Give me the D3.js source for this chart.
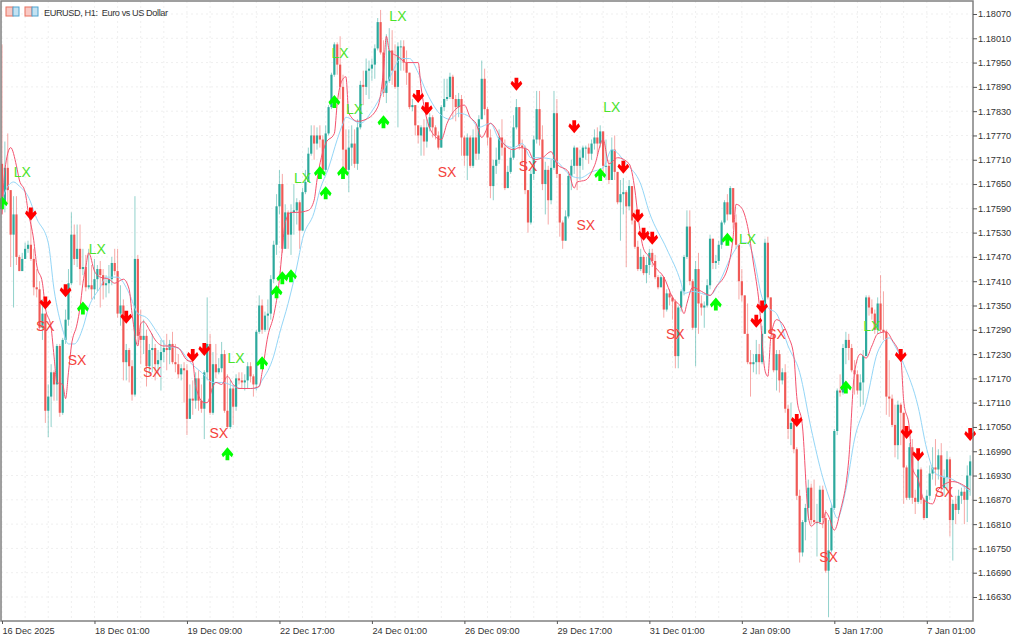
<!DOCTYPE html>
<html>
<head>
<meta charset="utf-8">
<script src="https://cdn.jsdelivr.net/npm/d3@7"></script>
<style>
    html, body { margin: 0; padding: 0; background: #fff; overflow: hidden; }
    svg { display: block; }
    text { font-family: "Liberation Sans", Arial, sans-serif; }
</style>
</head>
<body>
<div id="chart"></div>
<script>
// all prices below are in points above 1.10000, so 8070 reads 1.18070
const pointBase = 1.1;
const pointSize = 0.00001;
const firstOpen = 7700;

const highs = [
    7995, 7755, 7775, 7635, 7620, 7620, 7475, 7480, 7505, 7510, 7565, 7490, 7440, 7410, 7365, 7330, 7155, 7205, 7190, 7255,
    7255, 7270, 7340, 7440, 7580, 7550, 7550, 7550, 7490, 7475, 7490, 7450, 7465, 7450, 7460, 7440, 7425, 7450, 7470, 7490,
    7490, 7400, 7365, 7255, 7245, 7215, 7620, 7475, 7340, 7315, 7290, 7255, 7280, 7255, 7240, 7265, 7265, 7280, 7265, 7285,
    7255, 7230, 7205, 7210, 7205, 7155, 7165, 7185, 7190, 7155, 7190, 7370, 7280, 7235, 7255, 7220, 7260, 7240, 7180, 7165,
    7155, 7180, 7185, 7185, 7180, 7210, 7210, 7180, 7290, 7375, 7365, 7335, 7365, 7425, 7510, 7625, 7685, 7675, 7600, 7585,
    7600, 7650, 7615, 7610, 7640, 7685, 7740, 7795, 7795, 7790, 7795, 7770, 7795, 7845, 7925, 8000, 8000, 8015, 7920, 7785,
    7785, 7795, 7785, 7810, 7905, 7930, 7960, 7955, 7960, 7995, 8060, 8080, 8005, 8020, 8035, 8030, 7995, 8000, 8005, 8005,
    7980, 7925, 7860, 7845, 7795, 7795, 7810, 7810, 7825, 7820, 7795, 7780, 7845, 7910, 7910, 7925, 7920, 7870, 7875, 7870,
    7770, 7775, 7770, 7785, 7795, 7820, 7955, 7935, 7840, 7785, 7710, 7740, 7785, 7810, 7760, 7695, 7735, 7820, 7860, 7840,
    7760, 7745, 7635, 7685, 7770, 7880, 7880, 7795, 7705, 7695, 7710, 7880, 7860, 7675, 7560, 7585, 7680, 7710, 7745, 7735,
    7735, 7745, 7745, 7750, 7760, 7785, 7790, 7795, 7780, 7760, 7710, 7765, 7770, 7680, 7660, 7665, 7635, 7660, 7645, 7585,
    7510, 7490, 7475, 7470, 7490, 7490, 7475, 7425, 7425, 7420, 7390, 7390, 7375, 7365, 7350, 7390, 7475, 7585, 7585, 7415,
    7460, 7480, 7375, 7360, 7415, 7525, 7515, 7475, 7510, 7560, 7610, 7625, 7645, 7640, 7575, 7490, 7440, 7375, 7355, 7240,
    7230, 7265, 7255, 7300, 7515, 7520, 7370, 7280, 7240, 7240, 7195, 7205, 7105, 7110, 7055, 7000, 6895, 6820, 6860, 6920,
    6910, 6920, 6860, 6905, 6905, 6845, 6820, 6860, 7045, 7145, 7180, 7255, 7285, 7280, 7255, 7215, 7190, 7180, 7240, 7375,
    7375, 7365, 7340, 7370, 7425, 7385, 7290, 7215, 7130, 7105, 7115, 7110, 7085, 6955, 7010, 7020, 6895, 6970, 6950, 6875,
    6895, 6955, 7000, 7020, 6995, 7010, 6945, 6990, 6975, 6870, 6880, 6895, 6900, 6905, 6955, 6980
];

const lows = [
    7575, 7580, 7600, 7445, 7345, 7450, 7435, 7435, 7470, 7480, 7460, 7375, 7370, 7290, 7265, 7060, 7025, 7050, 7115, 7115,
    7075, 7080, 7255, 7300, 7400, 7450, 7445, 7400, 7425, 7385, 7390, 7365, 7365, 7385, 7345, 7365, 7370, 7380, 7400, 7425,
    7320, 7300, 7165, 7165, 7160, 7115, 7125, 7255, 7205, 7230, 7150, 7180, 7185, 7165, 7180, 7140, 7210, 7190, 7205, 7205,
    7185, 7170, 7165, 7110, 7030, 7070, 7080, 7095, 7090, 7085, 7020, 7165, 7080, 7080, 7170, 7180, 7185, 7085, 7045, 7045,
    7055, 7090, 7155, 7145, 7140, 7145, 7160, 7125, 7140, 7280, 7280, 7285, 7290, 7315, 7405, 7475, 7575, 7480, 7490, 7490,
    7475, 7525, 7550, 7490, 7550, 7625, 7665, 7720, 7710, 7735, 7740, 7675, 7680, 7770, 7835, 7915, 7920, 7860, 7685, 7675,
    7630, 7695, 7690, 7685, 7785, 7845, 7870, 7860, 7905, 7910, 7980, 7970, 7865, 7850, 7900, 7895, 7885, 7790, 7930, 7930,
    7895, 7835, 7830, 7770, 7750, 7720, 7720, 7740, 7780, 7765, 7760, 7735, 7755, 7830, 7855, 7860, 7810, 7805, 7815, 7720,
    7695, 7660, 7690, 7690, 7710, 7710, 7810, 7820, 7745, 7615, 7610, 7675, 7700, 7720, 7635, 7640, 7675, 7710, 7785, 7735,
    7695, 7625, 7530, 7550, 7660, 7750, 7745, 7635, 7575, 7550, 7600, 7685, 7665, 7520, 7490, 7510, 7565, 7635, 7675, 7635,
    7660, 7685, 7710, 7700, 7710, 7735, 7720, 7740, 7675, 7660, 7650, 7680, 7660, 7600, 7510, 7575, 7445, 7585, 7550, 7490,
    7435, 7435, 7425, 7405, 7425, 7445, 7415, 7390, 7395, 7320, 7335, 7350, 7315, 7195, 7195, 7335, 7375, 7465, 7400, 7290,
    7200, 7280, 7325, 7295, 7345, 7390, 7440, 7440, 7450, 7490, 7550, 7560, 7580, 7540, 7490, 7365, 7360, 7280, 7205, 7125,
    7185, 7180, 7180, 7205, 7280, 7365, 7280, 7185, 7140, 7135, 7155, 7085, 7020, 7005, 6985, 6870, 6715, 6730, 6770, 6820,
    6810, 6810, 6730, 6810, 6800, 6690, 6580, 6740, 6845, 7030, 7125, 7130, 7205, 7215, 7185, 7130, 7130, 7100, 7105, 7240,
    7325, 7315, 7280, 7280, 7285, 7265, 7080, 7075, 7050, 6975, 6970, 7005, 6860, 6870, 6870, 6860, 6835, 6860, 6860, 6820,
    6825, 6870, 6920, 6905, 6920, 6880, 6880, 6895, 6780, 6720, 6810, 6835, 6860, 6810, 6815, 6880
];

const closes = [
    7600, 7690, 7635, 7525, 7575, 7470, 7435, 7465, 7490, 7500, 7465, 7395, 7390, 7295, 7330, 7090, 7125, 7185, 7155, 7250,
    7085, 7265, 7315, 7405, 7525, 7465, 7490, 7440, 7445, 7395, 7400, 7390, 7415, 7440, 7425, 7400, 7405, 7415, 7455, 7435,
    7330, 7350, 7210, 7240, 7200, 7130, 7465, 7275, 7265, 7275, 7200, 7240, 7245, 7205, 7215, 7235, 7245, 7240, 7255, 7210,
    7205, 7180, 7195, 7190, 7070, 7120, 7115, 7170, 7115, 7095, 7185, 7255, 7085, 7205, 7185, 7195, 7230, 7090, 7050, 7145,
    7100, 7170, 7165, 7160, 7165, 7200, 7175, 7155, 7285, 7350, 7290, 7325, 7330, 7415, 7500, 7595, 7650, 7490, 7580, 7525,
    7580, 7585, 7605, 7535, 7630, 7655, 7725, 7770, 7750, 7770, 7760, 7685, 7775, 7840, 7920, 7995, 7945, 7890, 7735, 7685,
    7740, 7750, 7700, 7790, 7895, 7890, 7930, 7935, 7945, 7985, 8050, 7975, 7875, 7905, 7980, 7930, 7890, 7990, 7990, 7950,
    7925, 7840, 7845, 7795, 7770, 7790, 7755, 7790, 7815, 7790, 7770, 7740, 7840, 7860, 7865, 7915, 7860, 7840, 7860, 7765,
    7720, 7765, 7695, 7765, 7725, 7810, 7910, 7835, 7765, 7645, 7695, 7710, 7765, 7740, 7640, 7680, 7715, 7790, 7840, 7745,
    7740, 7635, 7555, 7675, 7760, 7835, 7760, 7650, 7685, 7610, 7690, 7825, 7675, 7555, 7510, 7570, 7670, 7695, 7740, 7695,
    7715, 7740, 7740, 7725, 7750, 7765, 7750, 7780, 7695, 7695, 7660, 7735, 7680, 7605, 7625, 7630, 7595, 7645, 7560, 7495,
    7440, 7470, 7430, 7450, 7480, 7460, 7420, 7395, 7420, 7340, 7380, 7370, 7360, 7225, 7345, 7385, 7470, 7545, 7410, 7295,
    7440, 7355, 7345, 7350, 7400, 7515, 7455, 7460, 7500, 7555, 7605, 7575, 7640, 7555, 7500, 7410, 7375, 7280, 7210, 7205,
    7210, 7230, 7210, 7280, 7505, 7370, 7280, 7190, 7230, 7165, 7185, 7095, 7045, 7060, 6995, 6880, 6740, 6815, 6850, 6900,
    6820, 6815, 6815, 6895, 6825, 6695, 6745, 6850, 7040, 7140, 7135, 7245, 7265, 7245, 7190, 7180, 7140, 7160, 7225, 7370,
    7345, 7330, 7290, 7355, 7290, 7285, 7125, 7120, 7055, 7005, 7105, 7085, 6950, 6875, 7000, 6875, 6865, 6945, 6870, 6825,
    6880, 6935, 6950, 6945, 6980, 6900, 6925, 6970, 6820, 6860, 6845, 6880, 6890, 6870, 6930, 6965
];

// moving averages, read at the bars where the curve visibly turns
const fastBars = [
    0, 1, 3, 5, 6, 8, 9, 11, 12, 14, 15, 17, 18, 19, 21, 22, 23, 24, 26, 27, 28, 29, 30, 32, 34, 37, 39, 42, 44, 45, 47, 48, 49, 51, 53, 56, 58, 61,
    64, 66, 67, 70, 71, 73, 74, 76, 78, 80, 82, 86, 89, 90, 92, 94, 96, 97, 98, 100, 102, 106, 108, 109, 112, 115, 116, 118, 119, 120, 123, 126,
    130, 132, 133, 134, 137, 140, 144, 145, 149, 152, 154, 157, 160, 162, 164, 166, 169, 171, 173, 177, 179, 182, 184, 187, 190, 192, 196, 198,
    199, 202, 205, 208, 210, 213, 217, 219, 220, 222, 224, 226, 229, 232, 235, 236, 237, 239, 242, 245, 247, 251, 253, 254, 256, 258, 260, 262,
    264, 265, 266, 268, 272, 274, 275, 277, 279, 280, 282, 284, 285, 286, 288, 290, 293, 295, 297, 299, 301, 303, 306, 308, 311, 312, 314, 315,
    317, 319, 322, 324, 329, 335
];
const fastValues = [
    7575, 7685, 7740, 7695, 7660, 7630, 7585, 7510, 7450, 7405, 7345, 7295, 7225, 7160, 7155, 7120, 7185, 7250, 7305, 7345, 7405, 7445, 7480, 7435, 7420, 7415, 7405, 7415, 7390, 7330, 7250, 7305, 7310, 7290, 7265, 7250, 7250, 7245,
    7215, 7210, 7150, 7110, 7110, 7150, 7160, 7155, 7175, 7155, 7145, 7145, 7150, 7185, 7275, 7325, 7415, 7490, 7555, 7580, 7580, 7585, 7610, 7660, 7750, 7775, 7850, 7910, 7915, 7825, 7805, 7810,
    7840, 7930, 8015, 7980, 7965, 7950, 7950, 7890, 7775, 7760, 7800, 7835, 7845, 7815, 7800, 7765, 7800, 7785, 7755, 7735, 7740, 7735, 7710, 7715, 7730, 7700, 7680, 7640,
    7655, 7660, 7695, 7760, 7700, 7715, 7700, 7635, 7575, 7490, 7470, 7445, 7420, 7370, 7345, 7330, 7355, 7395, 7385, 7375, 7395, 7440, 7520, 7600, 7590, 7545, 7455, 7355,
    7190, 7175, 7270, 7315, 7275, 7225, 7125, 7050, 6830, 6805, 6815, 6810, 6840, 6830, 6795, 6840, 6970, 7185, 7230, 7220, 7250, 7280, 7285, 7265, 7220, 7115, 7045, 6950,
    6920, 6870, 6860, 6895, 6915, 6895
];

const slowBars = [
    0, 1, 4, 6, 9, 12, 16, 18, 21, 23, 25, 28, 30, 34, 36, 40, 44, 47, 50, 54, 57, 61, 65, 69, 73, 76, 83, 88, 90, 94, 96, 99, 102, 104, 108, 110, 113, 116,
    118, 119, 121, 124, 128, 132, 135, 138, 141, 144, 147, 152, 155, 158, 162, 165, 169, 172, 177, 180, 183, 186, 191, 197, 200, 204, 208, 211, 216, 221,
    224, 230, 235, 236, 239, 245, 248, 253, 256, 258, 260, 263, 265, 268, 272, 276, 280, 284, 287, 289, 292, 295, 299, 303, 307, 309, 312, 317, 320, 323, 329, 335
];
const slowValues = [
    7610, 7630, 7655, 7645, 7620, 7565, 7505, 7390, 7290, 7255, 7255, 7295, 7345, 7395, 7420, 7420, 7380, 7330, 7320, 7280, 7250, 7245, 7210, 7185, 7160, 7160, 7145, 7145, 7165, 7225, 7280, 7355, 7445, 7515, 7580, 7635, 7690, 7760,
    7800, 7815, 7810, 7800, 7830, 7880, 7925, 7960, 7960, 7925, 7875, 7820, 7810, 7825, 7815, 7790, 7800, 7760, 7740, 7750, 7715, 7715, 7710, 7670, 7665, 7680, 7690, 7735, 7700, 7650,
    7580, 7490, 7405, 7380, 7385, 7375, 7405, 7480, 7505, 7505, 7470, 7370, 7345, 7330, 7250, 7185, 7045, 6925, 6860, 6825, 6895, 7020, 7110, 7235, 7270, 7250, 7205, 7100, 6995, 6935, 6920, 6890
];

const upBars = [0, 28, 78, 90, 95, 97, 100, 110, 112, 115, 118, 132, 207, 247, 251, 292];
const upValues = [7605, 7345, 6985, 7210, 7385, 7420, 7425, 7680, 7630, 7855, 7680, 7805, 7675, 7355, 7515, 7150];
const downBars = [10, 15, 22, 43, 66, 70, 144, 147, 178, 198, 215, 220, 222, 225, 261, 263, 275, 311, 313, 317, 335];
const downValues = [7575, 7355, 7385, 7320, 7225, 7240, 7865, 7835, 7895, 7790, 7690, 7570, 7525, 7515, 7310, 7345, 7065, 7225, 7035, 6980, 7030];

const lxBars = [7, 33, 81, 104, 117, 122, 137, 211, 258, 301];
const lxValues = [7680, 7490, 7220, 7665, 7975, 7835, 8065, 7840, 7515, 7300];
const sxBars = [15, 26, 52, 75, 154, 182, 202, 233, 268, 286, 326];
const sxValues = [7300, 7215, 7185, 7035, 7680, 7695, 7550, 7280, 7280, 6730, 6890];

const priceTicks = [
    1.18070, 1.18010, 1.17950, 1.17890, 1.17830, 1.17770, 1.17710, 1.17650, 1.17590, 1.17530, 1.17470, 1.17410, 1.17350,
    1.17290, 1.17230, 1.17170, 1.17110, 1.17050, 1.16990, 1.16930, 1.16870, 1.16810, 1.16750, 1.16690, 1.16630
];
const timeLabels = [
    '16 Dec 2025', '18 Dec 01:00', '19 Dec 09:00', '22 Dec 17:00', '24 Dec 01:00', '26 Dec 09:00',
    '29 Dec 17:00', '31 Dec 01:00', '2 Jan 09:00', '5 Jan 17:00', '7 Jan 01:00'
];
const barsPerLabel = 32;
const barsPerGrid = 8;

const config = {
    width: 1024,
    height: 639,
    plot: { left: 1, top: 1, right: 973, bottom: 621 },
    bullColor: '#26a69a',
    bearColor: '#ef5350',
    bodyWidth: 2.2
};

const toPrice = p => pointBase + p * pointSize;

const svg = d3.select('#chart')
    .append('svg')
    .attr('width', config.width)
    .attr('height', config.height);

const x = d3.scaleLinear().domain([0, closes.length - 1]).range([2, 970.15]);
const y = d3.scaleLinear().domain([1.16630, 1.18070]).range([597, 14]);

// dotted grid
const gridBars = d3.range(0, closes.length, barsPerGrid);
svg.append('g').selectAll('line')
    .data(gridBars)
    .enter()
    .append('line')
    .attr('x1', d => x(d))
    .attr('x2', d => x(d))
    .attr('y1', config.plot.top)
    .attr('y2', config.plot.bottom)
    .attr('stroke', '#efefef')
    .attr('stroke-dasharray', '2,3');
svg.append('g').selectAll('line')
    .data(priceTicks)
    .enter()
    .append('line')
    .attr('x1', config.plot.left)
    .attr('x2', config.plot.right)
    .attr('y1', d => y(d))
    .attr('y2', d => y(d))
    .attr('stroke', '#efefef')
    .attr('stroke-dasharray', '2,3');

// candles
const candles = closes.map((c, i) => {
    const open = i === 0 ? firstOpen : closes[i - 1];
    return { i: i, open: toPrice(open), close: toPrice(c), high: toPrice(highs[i]), low: toPrice(lows[i]) };
});
const candleColor = d => d.close >= d.open ? config.bullColor : config.bearColor;

const candleGroup = svg.append('g');
candleGroup.selectAll('.wick')
    .data(candles)
    .enter()
    .append('line')
    .attr('class', 'wick')
    .attr('x1', d => x(d.i))
    .attr('x2', d => x(d.i))
    .attr('y1', d => y(Math.max(d.high, d.open, d.close)))
    .attr('y2', d => y(Math.min(d.low, d.open, d.close)))
    .attr('stroke', candleColor)
    .attr('stroke-opacity', 0.5)
    .attr('stroke-width', 1);
candleGroup.selectAll('.body')
    .data(candles)
    .enter()
    .append('rect')
    .attr('class', 'body')
    .attr('x', d => x(d.i) - config.bodyWidth / 2)
    .attr('width', config.bodyWidth)
    .attr('y', d => y(Math.max(d.open, d.close)))
    .attr('height', d => Math.max(1, Math.abs(y(d.open) - y(d.close))))
    .attr('fill', candleColor)
    .attr('fill-opacity', 0.95);

// moving averages
const line = d3.line()
    .x(d => x(d[0]))
    .y(d => y(toPrice(d[1])))
    .curve(d3.curveMonotoneX);
svg.append('path')
    .datum(slowBars.map((b, i) => [b, slowValues[i]]))
    .attr('d', line)
    .attr('fill', 'none')
    .attr('stroke', '#94d6f7')
    .attr('stroke-width', 1);
svg.append('path')
    .datum(fastBars.map((b, i) => [b, fastValues[i]]))
    .attr('d', line)
    .attr('fill', 'none')
    .attr('stroke', '#f4526e')
    .attr('stroke-width', 1);

// signal arrows
const arrowShape = 'M-1.9,-7 L1.9,-7 L1.9,-1.6 L4.4,-4 L5.9,-1 L0,6 L-5.9,-1 L-4.4,-4 L-1.9,-1.6 Z';
svg.append('g').selectAll('path')
    .data(upBars.map((b, i) => [b, upValues[i]]))
    .enter()
    .append('path')
    .attr('d', arrowShape)
    .attr('transform', d => `translate(${x(d[0])},${y(toPrice(d[1]))}) scale(1,-1)`)
    .attr('fill', '#00ff00');
svg.append('g').selectAll('path')
    .data(downBars.map((b, i) => [b, downValues[i]]))
    .enter()
    .append('path')
    .attr('d', arrowShape)
    .attr('transform', d => `translate(${x(d[0])},${y(toPrice(d[1]))})`)
    .attr('fill', '#ff0000');

// exit labels
const drawLabels = (bars, values, label, color) => {
    svg.append('g').selectAll('text')
        .data(bars.map((b, i) => [b, values[i]]))
        .enter()
        .append('text')
        .attr('x', d => x(d[0]))
        .attr('y', d => y(toPrice(d[1])))
        .attr('dy', '0.36em')
        .attr('text-anchor', 'middle')
        .attr('font-size', 14)
        .attr('fill', color)
        .text(label);
};
drawLabels(lxBars, lxValues, 'LX', '#4be32a');
drawLabels(sxBars, sxValues, 'SX', '#f4423c');

// frame and axes
svg.append('rect')
    .attr('x', config.plot.left)
    .attr('y', config.plot.top)
    .attr('width', config.plot.right - config.plot.left)
    .attr('height', config.plot.bottom - config.plot.top)
    .attr('fill', 'none')
    .attr('stroke', '#808080')
    .attr('stroke-width', 1.5);

const styleAxis = g => {
    g.select('.domain').remove();
    g.selectAll('line').attr('stroke', '#555');
    g.selectAll('text').attr('fill', '#333').attr('font-size', 9.2);
};

const priceAxis = d3.axisRight(y)
    .tickValues(priceTicks)
    .tickFormat(d3.format('.5f'))
    .tickSize(4)
    .tickPadding(1);
svg.append('g')
    .attr('transform', `translate(${config.plot.right},0)`)
    .call(priceAxis)
    .call(styleAxis);

const timeAxis = d3.axisBottom(x)
    .tickValues(timeLabels.map((d, i) => i * barsPerLabel))
    .tickFormat((d, i) => timeLabels[i])
    .tickSize(3)
    .tickPadding(3);
svg.append('g')
    .attr('transform', `translate(0,${config.plot.bottom})`)
    .call(timeAxis)
    .call(styleAxis)
    .selectAll('text')
    .attr('text-anchor', 'start');

// title with the two little toolbar icons
const icons = svg.append('g');
[6, 25].forEach(left => {
    icons.append('rect').attr('x', left).attr('y', 7).attr('width', 7).attr('height', 9)
        .attr('fill', '#f9c9c4').attr('stroke', '#e8705f');
    icons.append('rect').attr('x', left + 7).attr('y', 7).attr('width', 6).attr('height', 9)
        .attr('fill', '#c4e2f2').attr('stroke', '#4fa3cf');
});
svg.append('text')
    .attr('x', 44)
    .attr('y', 15.5)
    .attr('font-size', 9.2)
    .attr('fill', '#333')
    .attr('textLength', 124)
    .attr('lengthAdjust', 'spacingGlyphs')
    .style('white-space', 'pre')
    .text('EURUSD, H1:  Euro vs US Dollar');
</script>
</body>
</html>
